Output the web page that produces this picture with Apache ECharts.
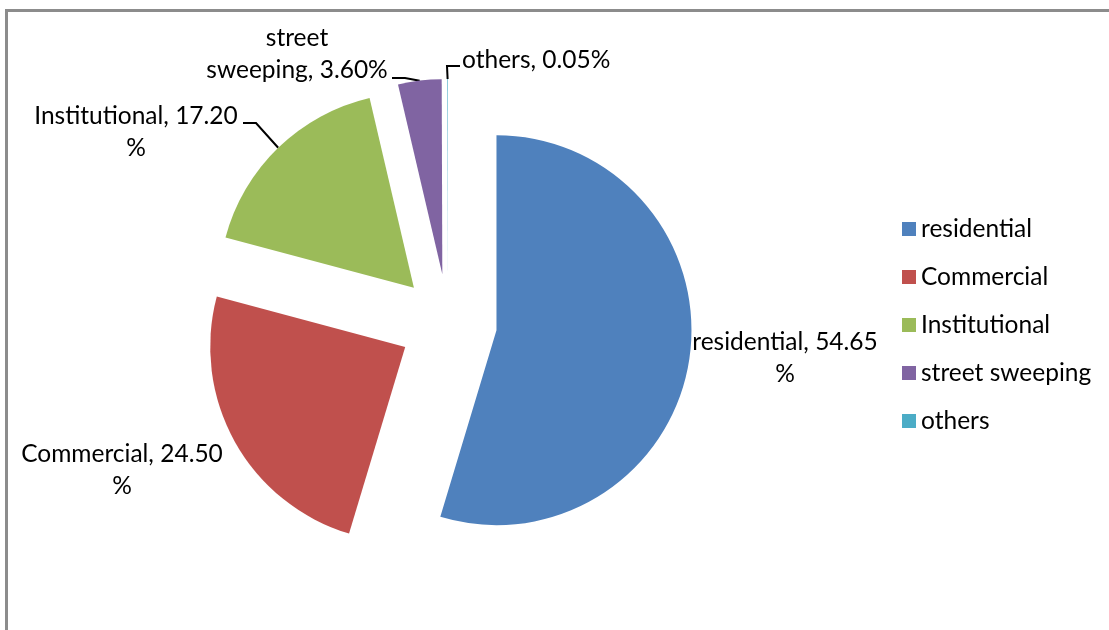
<!DOCTYPE html>
<html>
<head>
<meta charset="utf-8">
<script src="https://cdn.jsdelivr.net/npm/echarts@6/dist/echarts.min.js"></script>
<style>
  html, body { margin: 0; padding: 0; background: #fff; }
  #chart { width: 1109px; height: 630px; }
</style>
</head>
<body>
<div id="chart"></div>
<script>
// Waste generation by source (share of total, %)
const categories = ['residential', 'Commercial', 'Institutional', 'street sweeping', 'others'];
const shares = [54.65, 24.50, 17.20, 3.60, 0.05];
const sliceColors = ['#4F81BD', '#C0504D', '#9BBB59', '#8064A2', '#4BACC6'];

// Pie geometry
const CENTER = [448, 323];
const RADIUS = 195;
const EXPLODE = 49;
const FONT_FAMILY = 'Lato, "Liberation Sans", sans-serif';
const FONT_SIZE = 24.5;

// Where each data label sits, plus the bend of its leader line (if any)
const labelSpots = [
  { x: 785, y: 358, align: 'center' },
  { x: 122, y: 470, align: 'center' },
  { x: 136, y: 132, align: 'center', elbow: [256, 123], tip: [243, 123] },
  { x: 297, y: 54, align: 'center', elbow: [405, 78], tip: [392, 78] },
  { x: 462, y: 60, align: 'left', elbow: [447, 66], tip: [460, 66] }
];

// Excel-style wrapped label text
function labelText(i) {
  const name = categories[i];
  const pct = shares[i].toFixed(2);
  if (name === 'street sweeping') return 'street\nsweeping, ' + pct + '%';
  if (name === 'others') return name + ', ' + pct + '%';
  return name + ', ' + pct + '\n%';
}

const total = shares.reduce((a, b) => a + b, 0);
// Mid-angle of a slice, measured clockwise from 12 o'clock
function midAngle(i) {
  const before = shares.slice(0, i).reduce((a, b) => a + b, 0);
  return (before + shares[i] / 2) / total * Math.PI * 2;
}
// Point on the outer arc of an exploded slice, along its bisector
function arcAnchor(i) {
  const a = midAngle(i);
  const d = EXPLODE + RADIUS;
  return [CENTER[0] + Math.sin(a) * d, CENTER[1] - Math.cos(a) * d];
}

// Data labels and their leader lines
const labelGraphics = [];
categories.forEach((name, i) => {
  const s = labelSpots[i];
  if (s.elbow) {
    labelGraphics.push({
      type: 'polyline',
      silent: true,
      shape: { points: [arcAnchor(i), s.elbow, s.tip] },
      style: { stroke: '#000', lineWidth: 2, fill: null }
    });
  }
  labelGraphics.push({
    type: 'text',
    silent: true,
    x: s.x,
    y: s.y,
    style: {
      text: labelText(i),
      align: s.align,
      verticalAlign: 'middle',
      fontFamily: FONT_FAMILY,
      fontSize: FONT_SIZE,
      lineHeight: 32,
      fill: '#000'
    }
  });
});

const pieData = categories.map((name, i) => ({
  name: name,
  value: shares[i],
  selected: true,
  itemStyle: { color: sliceColors[i] }
}));

const chart = echarts.init(document.getElementById('chart'), null, { renderer: 'canvas' });
chart.setOption({
  animation: false,
  backgroundColor: '#ffffff',
  color: sliceColors,
  graphic: [
    { type: 'line', silent: true, shape: { x1: 5, y1: 10.5, x2: 1109, y2: 10.5 }, style: { stroke: '#8c8c8c', lineWidth: 3 } },
    { type: 'line', silent: true, shape: { x1: 6.5, y1: 9, x2: 6.5, y2: 630 }, style: { stroke: '#8c8c8c', lineWidth: 3 } }
  ].concat(labelGraphics),
  legend: {
    orient: 'vertical',
    left: 902,
    top: 216,
    padding: 0,
    itemWidth: 14,
    itemHeight: 14,
    itemGap: 22,
    icon: 'rect',
    selectedMode: false,
    textStyle: { fontFamily: FONT_FAMILY, fontSize: FONT_SIZE, color: '#000', lineHeight: 26 },
    data: categories
  },
  series: [{
    type: 'pie',
    center: CENTER,
    radius: RADIUS,
    startAngle: 90,
    clockwise: true,
    selectedMode: 'multiple',
    selectedOffset: EXPLODE,
    minAngle: 0,
    itemStyle: { borderWidth: 0 },
    emphasis: { disabled: true },
    select: { itemStyle: { borderWidth: 0 } },
    label: { show: false },
    labelLine: { show: false },
    data: pieData
  }]
});
</script>
</body>
</html>
